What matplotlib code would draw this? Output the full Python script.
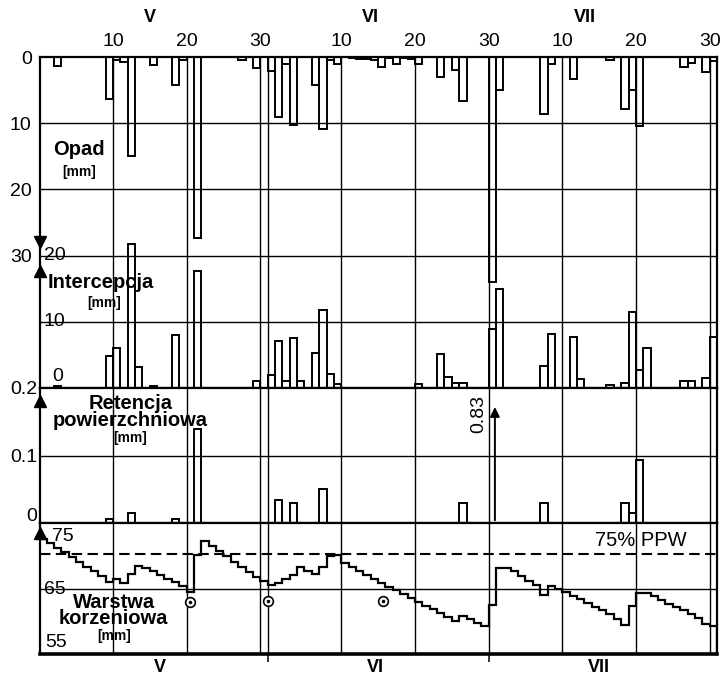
import numpy as np
import matplotlib.pyplot as plt
from matplotlib.transforms import blended_transform_factory

plt.rcParams['font.family'] = ['Liberation Sans', 'DejaVu Sans']

# days counted from 1 May (day 1) to 31 July (day 92)
opad_days = [3, 10, 11, 12, 13, 16, 19, 20, 22, 28, 30, 32, 33, 34, 35, 38, 39, 40, 41,
             43, 44, 45, 46, 47, 48, 49, 50, 51, 52, 55, 57, 58, 62, 63, 69, 70, 73, 78,
             80, 81, 82, 88, 89, 91, 92]
opad_mm = [1.3, 6.3, 0.5, 0.7, 15.0, 1.2, 4.3, 0.5, 27.3, 0.5, 1.6, 2.1, 9.0, 1.1, 10.2, 4.2, 10.9, 0.5, 1.0,
           0.2, 0.3, 0.3, 0.4, 1.5, 0.2, 1.0, 0.2, 0.3, 1.0, 3.0, 2.0, 6.6, 34.0, 5.0, 8.6, 1.0, 3.3, 0.5,
           7.8, 5.0, 10.4, 1.5, 0.9, 2.3, 0.6]

int_days = [3, 10, 11, 13, 14, 16, 19, 22, 30, 32, 33, 34, 35, 36, 38, 39, 40, 41, 52, 55,
            56, 57, 58, 62, 63, 69, 70, 73, 74, 78, 80, 81, 82, 83, 88, 89, 91, 92]
int_mm = [0.35, 4.8, 6.0, 21.7, 3.2, 0.3, 8.0, 17.6, 1.0, 2.0, 7.1, 1.0, 7.6, 1.0, 5.3, 11.8, 2.1, 0.6, 0.6, 5.1,
          1.7, 0.8, 0.8, 8.9, 15.0, 3.3, 8.2, 7.7, 1.4, 0.5, 0.8, 11.5, 2.7, 6.0, 1.0, 1.0, 1.5, 7.7]

ret_days = [10, 13, 19, 22, 33, 35, 39, 58, 62, 69, 80, 81, 82]
ret_mm = [0.006, 0.015, 0.006, 0.14, 0.034, 0.03, 0.05, 0.03, 0.83, 0.03, 0.03, 0.015, 0.093]

# root zone storage, one value per day (1 May .. 31 July)
warstwa = [72.6, 71.9, 71.2, 70.5, 69.8, 69.0, 68.3, 67.6, 66.9, 66.0,
           66.4, 65.9, 67.2, 68.5, 68.2, 67.6, 67.0, 66.5, 66.0, 65.4,
           64.5, 70.1, 72.3, 71.5, 70.7, 69.9, 69.1, 68.3, 67.5, 66.7,
           66.1, 65.5, 65.9, 66.4, 67.0, 68.3, 67.7, 67.2, 68.3, 69.9,
           70.1, 68.9, 68.3, 67.7, 67.1, 66.5, 65.9, 65.3, 64.8, 64.2,
           63.6, 63.0, 62.4, 61.8, 61.2, 60.6, 60.1, 60.8, 60.3, 59.7,
           59.2, 62.5, 68.1, 68.1, 67.6, 66.9, 66.2, 65.5, 64.0, 65.4,
           65.0, 64.4, 63.9, 63.4, 62.8, 62.2, 61.7, 61.1, 60.4, 59.4,
           62.4, 64.3, 64.3, 63.8, 63.2, 62.7, 62.2, 61.7, 61.1, 60.5,
           59.6, 59.2]
ppw75 = 70.2
circ_t = [20.4, 31.1, 46.7]
circ_y = [62.9, 63.1, 63.1]

grid_days = [10, 20, 30, 31, 41, 51, 61, 71, 81, 91]
top_ticks = [10, 20, 30, 41, 51, 61, 71, 81, 91]
top_labels = ['10', '20', '30', '10', '20', '30', '10', '20', '30']
months = ['V', 'VI', 'VII']
month_top = [15, 45, 74]
month_bot = [16.4, 45.6, 76]

OPAD_TOP = 50   # rain hangs down from the top of the shared panel
XMIN, XMAX = 0.1, 92

fig = plt.figure(figsize=(7.22, 6.77), dpi=100)
L, W = 40 / 722, 677 / 722
ax1 = fig.add_axes([L, 1 - 388 / 677, W, 331 / 677])
ax2 = fig.add_axes([L, 1 - 523 / 677, W, 135 / 677])
ax3 = fig.add_axes([L, 1 - 654 / 677, W, 131 / 677])

for ax in (ax1, ax2, ax3):
    ax.set_xlim(XMIN, XMAX)
    for d in grid_days:
        ax.axvline(d, color='black', lw=1.0, zorder=1)
    for s in ax.spines.values():
        s.set_linewidth(1.6)
    ax.tick_params(axis='y', length=0, labelsize=14)
ax3.spines['bottom'].set_linewidth(2.6)

bar_kw = dict(width=1, align='edge', fill=False, edgecolor='black', linewidth=1.4, zorder=3)

# Opad + Intercepcja share one panel
ax1.set_ylim(0, 50)
for y in (10, 20, 30, 40):
    ax1.axhline(y, color='black', lw=1.0, zorder=1)
ax1.bar(np.array(opad_days) - 1, -np.array(opad_mm), bottom=OPAD_TOP, **bar_kw)
ax1.bar(np.array(int_days) - 1, int_mm, **bar_kw)
ax1.set_yticks([50, 40, 30, 20], ['0', '10', '20', '30'])
ax1.tick_params(axis='y', pad=6)
ax1.xaxis.set_ticks_position('top')
ax1.set_xticks(top_ticks, top_labels)
ax1.tick_params(axis='x', length=0, pad=5, labelsize=14)
for y, lab, x in [(20, '20', 0.6), (10, '10', 0.6), (1.8, '0', 1.7)]:
    ax1.text(x, y, lab, fontsize=14, ha='left', va='center')
ax1.text(5.4, 36.0, 'Opad', fontsize=14.5, fontweight='bold', ha='center', va='center')
ax1.text(5.4, 32.6, '[mm]', fontsize=10, fontweight='bold', ha='center', va='center')
ax1.text(1.2, 16.0, 'Intercepcja', fontsize=14.5, fontweight='bold', ha='left', va='center')
ax1.text(8.8, 12.8, '[mm]', fontsize=10, fontweight='bold', ha='center', va='center')
ax1.plot([XMIN], [22.0], marker='v', color='black', ms=8, clip_on=False, zorder=5)
ax1.plot([XMIN], [17.7], marker='^', color='black', ms=8, clip_on=False, zorder=5)
tr_top = blended_transform_factory(ax1.transData, ax1.transAxes)
for m, x in zip(months, month_top):
    ax1.text(x, 1.118, m, transform=tr_top, fontsize=13, fontweight='bold', ha='center', va='center')

# Retencja powierzchniowa
RET_MAX = 0.2
ax2.set_ylim(0, RET_MAX)
ax2.axhline(0.1, color='black', lw=1.0, zorder=1)
ret_days = np.array(ret_days)
ret_mm = np.array(ret_mm)
on_scale = ret_mm < RET_MAX
ax2.bar(ret_days[on_scale] - 1, ret_mm[on_scale], **bar_kw)
for d, v in zip(ret_days[~on_scale], ret_mm[~on_scale]):
    ax2.annotate('', xy=(d - 0.15, RET_MAX * 0.88), xytext=(d - 0.15, 0),
                 arrowprops=dict(arrowstyle='-|>', color='black', lw=1.4, mutation_scale=14),
                 zorder=4)
    ax2.text(d - 2.3, RET_MAX * 0.81, f'{v:.2f}', rotation=90, fontsize=14, ha='center', va='center')
ax2.set_yticks([0.2, 0.1, 0.012], ['0.2', '0.1', '0'])
ax2.tick_params(axis='y', pad=2)
ax2.set_xticks([])
ax2.text(12.4, 0.165, 'Retencja\npowierzchniowa', fontsize=14.5, fontweight='bold',
         ha='center', va='center', linespacing=0.85)
ax2.text(12.3, 0.126, '[mm]', fontsize=10, fontweight='bold', ha='center', va='center')
ax2.plot([XMIN], [0.181], marker='^', color='black', ms=8, clip_on=False, zorder=5)

# Warstwa korzeniowa
ax3.set_ylim(55, 75)
ax3.axhline(65, color='black', lw=1.0, zorder=1)
ax3.axhline(ppw75, color='black', lw=1.5, dashes=(5, 2.6), zorder=2)
ax3.text(81.6, 72.3, '75% PPW', fontsize=14.5, ha='center', va='center')
ax3.stairs(warstwa, np.arange(len(warstwa) + 1), color='black', lw=1.6, zorder=3)
ax3.plot(circ_t, circ_y, 'o', ms=7, mfc='white', mec='black', mew=1.2, zorder=4)
ax3.plot(circ_t, circ_y, '.', ms=3, color='black', zorder=5)
ax3.set_yticks([])
for y, lab, x in [(73.0, '75', 1.7), (64.8, '65', 0.6), (56.7, '55', 0.8)]:
    ax3.text(x, y, lab, fontsize=14, ha='left', va='center')
ax3.text(10.1, 61.7, 'Warstwa\nkorzeniowa', fontsize=14.5, fontweight='bold',
         ha='center', va='center', linespacing=0.8)
ax3.text(10.2, 57.8, '[mm]', fontsize=10, fontweight='bold', ha='center', va='center')
ax3.plot([XMIN], [73.5], marker='^', color='black', ms=8, clip_on=False, zorder=5)
ax3.set_xticks([31, 61], ['', ''])
ax3.tick_params(axis='x', length=6, width=1.1, direction='out')
tr_bot = blended_transform_factory(ax3.transData, ax3.transAxes)
for m, x in zip(months, month_bot):
    ax3.text(x, -0.1, m, transform=tr_bot, fontsize=13, fontweight='bold', ha='center', va='center')

fig.savefig('out.png', dpi=100)
